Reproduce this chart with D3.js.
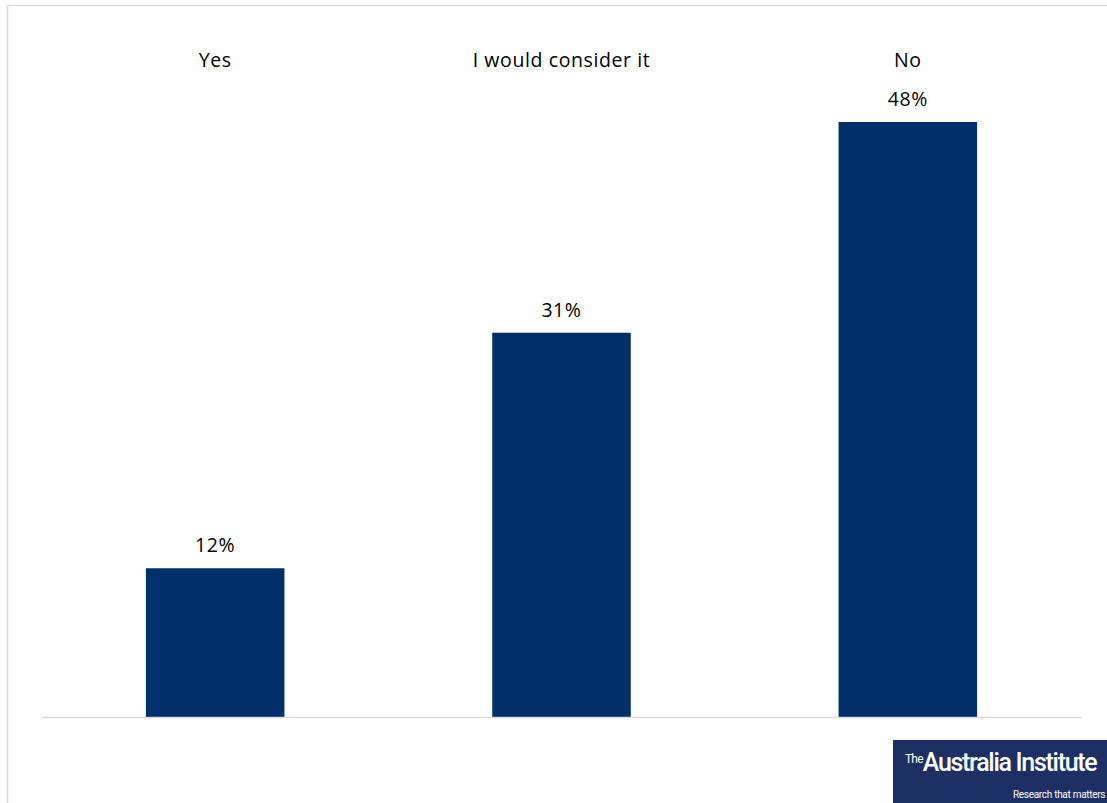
<!DOCTYPE html>
<html>
<head>
<meta charset="utf-8">
<script src="https://cdn.jsdelivr.net/npm/d3@7"></script>
<style>
  html, body { margin: 0; padding: 0; background: #fff; }
  svg { display: block; }
</style>
</head>
<body>
<svg id="chart" width="1107" height="803"></svg>
<script>
// Survey answers and their shares (%)
const categories = ["Yes", "I would consider it", "No"];
const values = [12, 31, 48];
const valueLabels = ["12%", "31%", "48%"];

const W = 1107, H = 803;
const svg = d3.select("#chart");
const font = "'Open Sans', 'Noto Sans', sans-serif";

// Frame around the chart area
svg.append("line").attr("x1", 7.5).attr("x2", W).attr("y1", 5.5).attr("y2", 5.5)
  .attr("stroke", "#d9d9d9").attr("stroke-width", 1.5);
svg.append("line").attr("x1", 7.5).attr("x2", 7.5).attr("y1", 5.5).attr("y2", H)
  .attr("stroke", "#d9d9d9").attr("stroke-width", 1.5);

const plot = { left: 42, right: 1081, top: 0, bottom: 717 };

const x = d3.scaleBand()
  .domain(categories)
  .range([plot.left, plot.right])
  .paddingInner(0.6)
  .paddingOuter(0.3);

const y = d3.scaleLinear()
  .domain([0, 48 * 717 / 595])
  .range([plot.bottom, plot.top]);

// Bars
svg.append("g").selectAll("rect")
  .data(categories)
  .join("rect")
  .attr("x", d => x(d))
  .attr("width", x.bandwidth())
  .attr("y", (d, i) => y(values[i]))
  .attr("height", (d, i) => y(0) - y(values[i]))
  .attr("fill", "#002f6a");

// Baseline axis
const axis = svg.append("g")
  .attr("transform", `translate(0,${plot.bottom})`)
  .call(d3.axisBottom(x).tickSize(0).tickFormat(""));
axis.select(".domain").attr("stroke", "#d9d9d9").attr("stroke-width", 1.5);

// Category labels along the top
svg.append("g").selectAll("text")
  .data(categories)
  .join("text")
  .attr("x", d => x(d) + x.bandwidth() / 2)
  .attr("y", 67)
  .attr("text-anchor", "middle")
  .attr("font-family", font)
  .attr("font-size", 19.5)
  .attr("letter-spacing", 0.6)
  .attr("fill", "#000")
  .text(d => d);

// Value labels above the bars
svg.append("g").selectAll("text")
  .data(categories)
  .join("text")
  .attr("x", d => x(d) + x.bandwidth() / 2)
  .attr("y", (d, i) => y(values[i]) - 16)
  .attr("text-anchor", "middle")
  .attr("font-family", font)
  .attr("font-size", 19.5)
  .attr("letter-spacing", 0.6)
  .attr("fill", "#000")
  .text((d, i) => valueLabels[i]);

// Publisher badge, bottom right
const badge = svg.append("g").attr("transform", "translate(893,740)");
badge.append("rect").attr("width", 214).attr("height", 63).attr("fill", "#1d3066");
badge.append("text")
  .attr("x", 12).attr("y", 31)
  .attr("font-family", "'Roboto', 'Liberation Sans Narrow', sans-serif")
  .attr("fill", "#fff")
  .call(t => {
    t.append("tspan").attr("font-size", 12).attr("dy", -8).attr("letter-spacing", -0.8).text("The");
    t.append("tspan").attr("font-size", 25).attr("dy", 8).attr("font-weight", 500)
      .attr("letter-spacing", -1.3).text("Australia Institute");
  });
badge.append("text")
  .attr("x", 120).attr("y", 58)
  .attr("font-family", "'Liberation Sans Narrow', 'Roboto', sans-serif")
  .attr("font-size", 10)
  .attr("letter-spacing", -0.3)
  .attr("fill", "#fff")
  .text("Research that matters");
</script>
</body>
</html>
